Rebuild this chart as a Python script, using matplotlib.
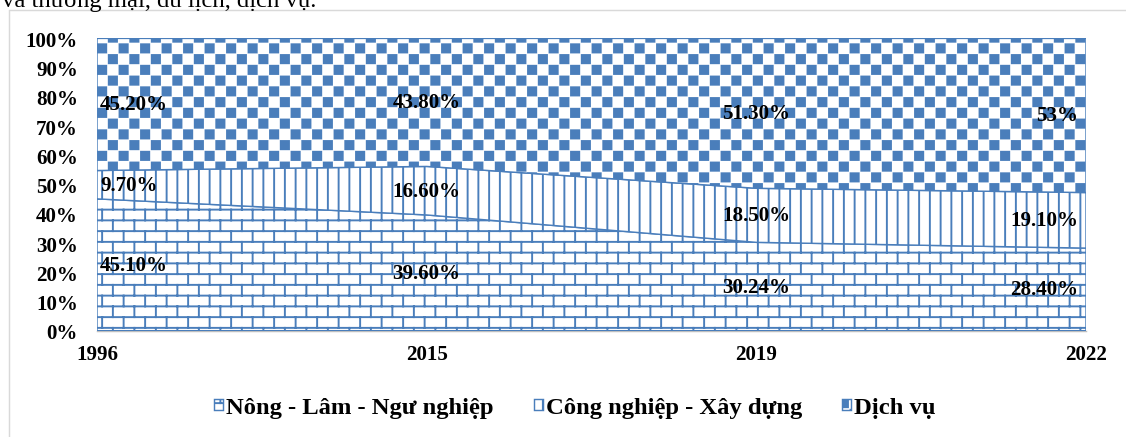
import warnings
import numpy as np
import matplotlib
matplotlib.use("Agg")
import matplotlib.pyplot as plt
from matplotlib import hatch as mhatch
from matplotlib.path import Path
from matplotlib.patches import Rectangle

warnings.filterwarnings("ignore")

# data
years = ["1996", "2015", "2019", "2022"]
nong_lam = [45.1, 39.6, 30.24, 28.4]
cong_nghiep = [9.7, 16.6, 18.5, 19.1]
dich_vu = [45.2, 43.8, 51.3, 53.0]
series_names = ["Nông - Lâm - Ngư nghiệp", "Công nghiệp - Xây dựng", "Dịch vụ"]
y_ticks = [0, 10, 20, 30, 40, 50, 60, 70, 80, 90, 100]
caption = "và thương mại, du lịch, dịch vụ."

BLUE = "#4a7ebb"
W, H, DPI = 1126, 438, 86.4


# custom hatch patterns (Excel-like brick, vertical lines, checkerboard)
class BrickHatch(mhatch.HatchPatternBase):
    def __init__(self, hatch, density):
        self.rows = 8 if "B" in hatch else 0
        self.bricks = 4
        self.num_vertices = (self.rows * 2 + (self.rows + 1) * self.bricks * 2) if self.rows else 0

    def set_vertices_and_codes(self, vertices, codes):
        h = 1.0 / self.rows
        w = 1.0 / self.bricks
        segs = []
        for r in range(self.rows):
            y = (r + 0.5) * h
            segs.append([(0, y), (1, y)])
        for r in range(-1, self.rows):
            y0 = max((r + 0.5) * h, 0)
            y1 = min((r + 1.5) * h, 1)
            off = 0.25 if r % 2 == 0 else 0.75
            for b in range(self.bricks):
                x = (b + off) * w
                segs.append([(x, y0), (x, y1)])
        vertices[:] = np.array(segs).reshape(-1, 2)
        codes[0::2] = Path.MOVETO
        codes[1::2] = Path.LINETO


class StripeHatch(mhatch.HatchPatternBase):
    def __init__(self, hatch, density):
        self.n = 8 if "V" in hatch else 0
        self.num_vertices = self.n * 2

    def set_vertices_and_codes(self, vertices, codes):
        xs = (np.arange(self.n) + 0.5) / self.n
        vertices[0::2, 0] = xs
        vertices[0::2, 1] = 0
        vertices[1::2, 0] = xs
        vertices[1::2, 1] = 1
        codes[0::2] = Path.MOVETO
        codes[1::2] = Path.LINETO


class CheckerHatch(mhatch.HatchPatternBase):
    def __init__(self, hatch, density):
        self.n = 8 if "C" in hatch else 0
        self.num_vertices = (self.n * self.n // 2) * 5

    def set_vertices_and_codes(self, vertices, codes):
        c = 1.0 / self.n
        s = 0.095
        pts = []
        for i in range(self.n):
            for j in range(self.n):
                if (i + j) % 2 == 0:
                    x0 = i * c + (c - s) / 2
                    y0 = j * c + (c - s) / 2
                    pts += [(x0, y0), (x0 + s, y0), (x0 + s, y0 + s), (x0, y0 + s), (x0, y0)]
        vertices[:] = pts
        cd = np.full(len(pts), Path.LINETO, dtype=codes.dtype)
        cd[0::5] = Path.MOVETO
        cd[4::5] = Path.CLOSEPOLY
        codes[:] = cd


mhatch._hatch_types.extend([BrickHatch, StripeHatch, CheckerHatch])

plt.rcParams["font.family"] = ["Liberation Serif", "DejaVu Serif"]
plt.rcParams["font.weight"] = "bold"
plt.rcParams["hatch.linewidth"] = 1.6
plt.rcParams["hatch.color"] = BLUE

fig = plt.figure(figsize=(W / DPI, H / DPI), dpi=DPI)

# outer chart frame (continues beyond the screenshot)
fig.add_artist(Rectangle((9 / W, -0.05), 1.1, 1 - 11 / H + 0.05, transform=fig.transFigure,
                         fill=False, edgecolor="#d9d9d9", linewidth=1.2))
# cut-off document line above the chart
fig.text(2 / W, 1 - 7 / H, caption, fontsize=20.5, fontweight="normal", va="baseline", ha="left")

ax = fig.add_axes([97 / W, (H - 331.7) / H, (1086 - 97) / W, 292.3 / H])

x = np.arange(len(years))
a = np.array(nong_lam)
b = np.array(cong_nghiep)
c = np.array(dich_vu)
tot = a + b + c
pa, pb, pc = a / tot * 100, b / tot * 100, c / tot * 100

ax.fill_between(x, 0, pa, facecolor="white", edgecolor=BLUE, hatch="B", linewidth=1.2,
                label=series_names[0])
ax.fill_between(x, pa, pa + pb, facecolor="white", edgecolor=BLUE, hatch="V", linewidth=1.2,
                label=series_names[1])
ax.fill_between(x, pa + pb, 100, facecolor="white", edgecolor=BLUE, hatch="C", linewidth=1.2,
                label=series_names[2])


def fmt(v):
    return f"{int(v)}%" if v == int(v) else f"{v:.2f}%"


for i in range(len(years)):
    ha = "left" if i == 0 else ("right" if i == len(years) - 1 else "center")
    dx = 3 if i == 0 else (-8 if i == len(years) - 1 else 0)
    mids = [pa[i] / 2, pa[i] + pb[i] / 2, pa[i] + pb[i] + pc[i] / 2]
    for v, m in zip([a[i], b[i], c[i]], mids):
        ax.annotate(fmt(v), (x[i], m), xytext=(dx, 0), textcoords="offset pixels",
                    ha=ha, va="center", fontsize=17.5, fontweight="bold")

ax.set_xlim(0, len(years) - 1)
ax.set_ylim(0, 100)
ax.set_xticks(x)
ax.set_xticklabels(years)
ax.set_yticks(y_ticks)
ax.set_yticklabels([f"{t}%" for t in y_ticks])
ax.tick_params(length=0, labelsize=17.5)
ax.tick_params(axis="y", pad=15.8)
ax.tick_params(axis="x", pad=11)
for s in ["top", "left", "right"]:
    ax.spines[s].set_visible(False)
ax.spines["bottom"].set_color("#bfbfbf")
ax.spines["bottom"].set_linewidth(1.2)
ax.spines["bottom"].set_zorder(0.5)

ax.legend(loc="center", bbox_to_anchor=(575 / W, 29 / H), bbox_transform=fig.transFigure,
          ncol=3, frameon=False, prop={"weight": "bold", "size": 20.5},
          handlelength=0.35, handleheight=0.35, handletextpad=0.12, columnspacing=1.65)

fig.savefig("out.png", dpi=DPI)
